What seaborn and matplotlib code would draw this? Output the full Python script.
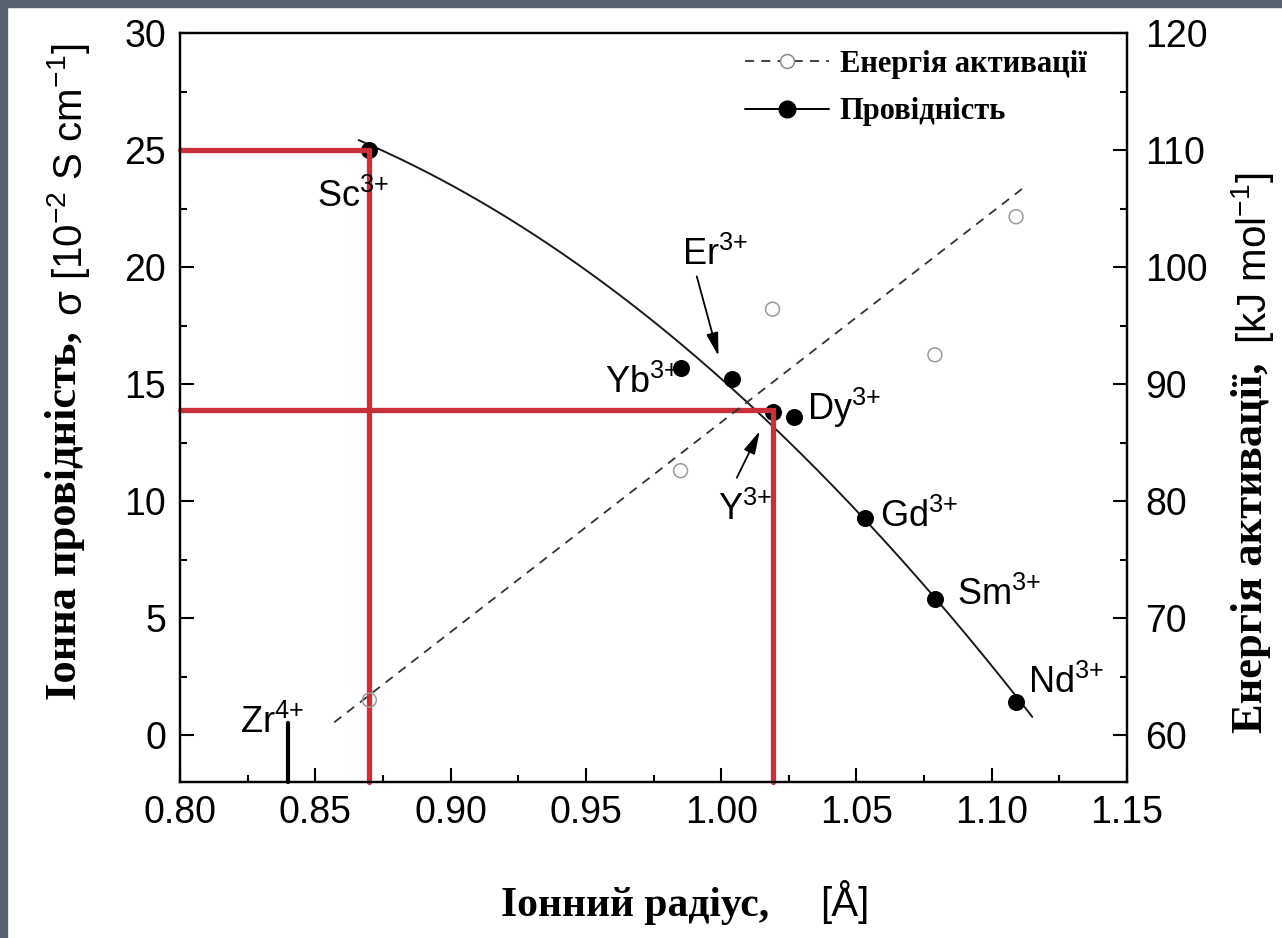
import numpy as np
import pandas as pd
import matplotlib
matplotlib.use("Agg")
import matplotlib.pyplot as plt
import seaborn as sns
from matplotlib.lines import Line2D
from matplotlib.patches import Rectangle
from matplotlib.ticker import AutoMinorLocator

# ---------------- data ----------------
ions = ["Sc", "Yb", "Er", "Y", "Dy", "Gd", "Sm", "Nd"]
radius = [0.870, 0.985, 1.004, 1.019, 1.027, 1.053, 1.079, 1.109]
conductivity = [25.0, 15.7, 15.2, 13.8, 13.6, 9.3, 5.8, 1.4]

ea_radius = [0.870, 0.985, 1.019, 1.079, 1.109]
activation_energy = [63.0, 82.6, 96.4, 92.5, 104.3]

# fitted trend lines
cond_curve_x = [0.866, 1.0095, 1.053, 1.079, 1.115]
cond_curve_y = [25.43, 14.19, 9.3, 5.85, 0.77]
ea_line_x = [0.857, 1.113]
ea_line_y = [61.1, 107.0]

# red guide lines (Sc and Y)
guide_x = [0.870, 1.019]
guide_y = [25.0, 13.9]

# Zr4+ marker
zr_radius = 0.84
zr_top = 0.5

x_ticks = [0.80, 0.85, 0.90, 0.95, 1.00, 1.05, 1.10, 1.15]
y_ticks = [0, 5, 10, 15, 20, 25, 30]
y2_ticks = [60, 70, 80, 90, 100, 110, 120]

legend_labels = ["Енергія активації", "Провідність"]

# ---------------- style ----------------
sns.set_style("ticks")
plt.rcParams["font.family"] = ["Liberation Sans", "DejaVu Sans"]
plt.rcParams["mathtext.fontset"] = "custom"
plt.rcParams["mathtext.rm"] = "Liberation Sans"
plt.rcParams["mathtext.it"] = "Liberation Sans:italic"
plt.rcParams["mathtext.bf"] = "Liberation Sans:bold"
plt.rcParams["mathtext.default"] = "rm"
for k in ("text.color", "axes.labelcolor", "xtick.color", "ytick.color",
          "axes.edgecolor"):
    plt.rcParams[k] = "black"

W, H = 1282, 938
fig = plt.figure(figsize=(W / 100, H / 100), dpi=100)
fig.patch.set_facecolor("white")
ax = fig.add_axes([180 / W, 1 - 782 / H, (1127 - 180) / W, (782 - 33) / H])
ax2 = ax.twinx()

XMIN, XMAX, YMIN, YMAX = 0.80, 1.15, -2, 30
ax.set_xlim(XMIN, XMAX)
ax.set_ylim(YMIN, YMAX)
ax2.set_ylim(56, 120)

# conductivity fit curve
coef = np.polyfit(cond_curve_x, cond_curve_y, 2)
xs = np.linspace(cond_curve_x[0], cond_curve_x[-1], 200)
curve = pd.DataFrame({"x": xs, "y": np.polyval(coef, xs)})
sns.lineplot(data=curve, x="x", y="y", ax=ax, color="#1a1a1a", lw=1.4, zorder=3)

# activation-energy dashed line
ea_df = pd.DataFrame({"x": ea_line_x, "y": ea_line_y})
sns.lineplot(data=ea_df, x="x", y="y", ax=ax2, color="#333333", lw=1.3,
             dashes=False, zorder=3)
ax2.lines[-1].set_dashes((5, 4))

# points
cond_df = pd.DataFrame({"r": radius, "s": conductivity, "ion": ions})
sns.scatterplot(data=cond_df, x="r", y="s", ax=ax, color="black", s=150,
                edgecolor="black", linewidth=0, zorder=5)
ea_pts = pd.DataFrame({"r": ea_radius, "e": activation_energy})
sns.scatterplot(data=ea_pts, x="r", y="e", ax=ax2, facecolor="none",
                edgecolor="#9a9a9a", s=100, linewidth=1.1, zorder=5)

# red guide lines
red = "#c9303a"
for gx, gy in zip(guide_x, guide_y):
    ax.plot([XMIN, gx, gx], [gy, gy, YMIN], color=red, lw=3.8,
            solid_joinstyle="miter", zorder=6, clip_on=False)

# Zr marker
ax.plot([zr_radius, zr_radius], [YMIN, zr_top], color="black", lw=3.0,
        zorder=4, clip_on=False)

# ion labels
lab_fs = 26
label_pos = {
    "Sc": (0.8506, 22.56), "Yb": (0.9571, 14.62), "Er": (0.9855, 20.09),
    "Y": (0.9988, 9.19), "Dy": (1.0317, 13.46), "Gd": (1.0587, 8.89),
    "Sm": (1.0871, 5.56), "Nd": (1.1134, 1.79),
}
for ion in ions:
    x, y = label_pos[ion]
    ax.text(x, y, ion + r"$^{3{+}}$", fontsize=lab_fs, ha="left", va="baseline",
            zorder=7)
ax.text(0.8222, 0.09, r"Zr$^{4{+}}$", fontsize=lab_fs, ha="left", va="baseline")

arrow_kw = dict(arrowstyle="-|>,head_length=0.7,head_width=0.18",
                color="black", lw=1.3, mutation_scale=20, shrinkA=0, shrinkB=0)
ax.annotate("", xy=(0.9990, 16.2), xytext=(0.9910, 19.6), arrowprops=arrow_kw)
ax.annotate("", xy=(1.0143, 13.0), xytext=(1.0058, 11.0), arrowprops=arrow_kw)

# ticks & spines
tick_fs = 27
ax.set_xticks(x_ticks)
ax.set_xticklabels([f"{v:.2f}" for v in x_ticks])
ax.set_yticks(y_ticks)
ax2.set_yticks(y2_ticks)
ax.xaxis.set_minor_locator(AutoMinorLocator(2))
ax.yaxis.set_minor_locator(AutoMinorLocator(2))
ax2.yaxis.set_minor_locator(AutoMinorLocator(2))
for a in (ax, ax2):
    a.tick_params(which="major", direction="in", length=10, width=1.5,
                  labelsize=tick_fs, color="black", labelcolor="black")
    a.tick_params(which="minor", direction="in", length=5, width=1.5,
                  color="black")
    for sp in a.spines.values():
        sp.set_visible(True)
        sp.set_linewidth(1.6)
        sp.set_color("black")
    a.set_xlabel("")
    a.set_ylabel("")
ax.tick_params(axis="x", which="both", top=False, pad=9)
ax.tick_params(axis="y", which="both", right=False, pad=10)
ax2.tick_params(axis="y", which="both", left=False, right=True, pad=13)

# legend
h1 = Line2D([], [], ls=(0, (5, 4)), color="#333333", lw=1.3, marker="o",
            mfc="white", mec="#8a8a8a", ms=10, mew=1.1)
h2 = Line2D([], [], ls="-", color="black", lw=1.4, marker="o",
            mfc="black", mec="black", ms=12)
leg = ax.legend([h1, h2], legend_labels, loc="upper left",
                bbox_to_anchor=((745 - 180) / 947, (782 - 50) / 749),
                frameon=False, borderaxespad=0, borderpad=0,
                handlelength=2.75, handletextpad=0.35, labelspacing=0.6,
                prop={"family": "Liberation Serif", "weight": "bold", "size": 22})

# axis titles (mixed serif / sans)
serif = {"family": "Liberation Serif", "weight": "bold"}
fig.text(76 / W, 1 - 516 / H, "Іонна провідність,", fontdict=serif, fontsize=32,
         rotation=90, ha="center", va="baseline", rotation_mode="anchor")
fig.text(82 / W, 1 - 180 / H, r"σ [10$^{-2}$ S cm$^{-1}$]", fontsize=29,
         rotation=90, ha="center", va="baseline", rotation_mode="anchor")
fig.text(1262 / W, 1 - 548 / H, "Енергія активації,", fontdict=serif, fontsize=32,
         rotation=90, ha="center", va="baseline", rotation_mode="anchor")
fig.text(1266 / W, 1 - 258 / H, r"[kJ mol$^{-1}$]", fontsize=29,
         rotation=90, ha="center", va="baseline", rotation_mode="anchor")
fig.text(635 / W, 1 - 916 / H, "Іонний радіус,", fontdict=serif, fontsize=30,
         ha="center", va="baseline")
fig.text(820 / W, 1 - 916 / H, "[Å]", fontsize=29, ha="left", va="baseline")

# dark frame strips of the slide
frame = "#56636f"
fig.patches.append(Rectangle((0, 0), 7 / W, 1, transform=fig.transFigure,
                             color=frame, zorder=0))
fig.patches.append(Rectangle((0, 1 - 7 / H), 1, 7 / H, transform=fig.transFigure,
                             color=frame, zorder=0))

fig.savefig("out.png", dpi=100)
